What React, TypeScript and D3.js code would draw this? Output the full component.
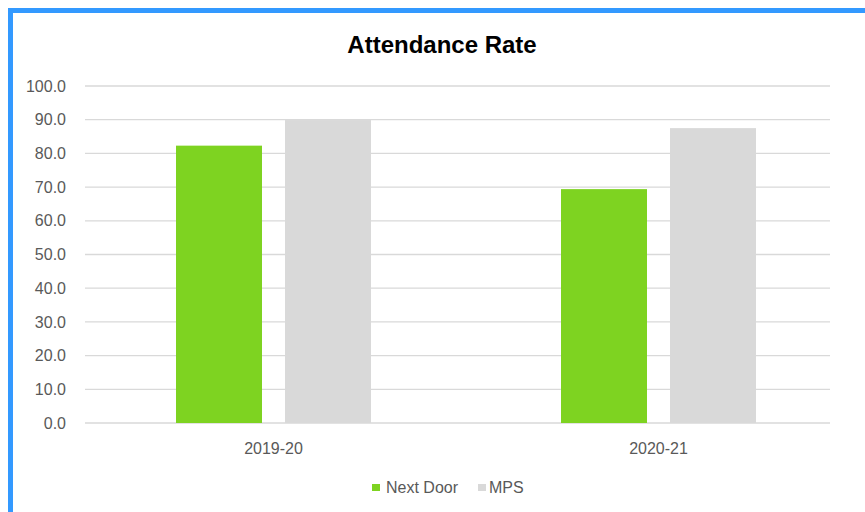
import React from "react";
import * as d3 from "d3";

const categories = ["2019-20", "2020-21"];
const seriesNames = ["Next Door", "MPS"];
const nextDoor = [82.3, 69.4];
const mps = [89.9, 87.5];
const yTicks = [0, 10, 20, 30, 40, 50, 60, 70, 80, 90, 100];
const title = "Attendance Rate";

const colors = ["#7ED321", "#D9D9D9"];

export default function App() {
  const W = 865, H = 512;
  const x0 = d3.scaleBand<string>().domain(categories).range([81, 851]).paddingInner(0).paddingOuter(0);
  const x1 = d3.scaleBand<string>().domain(seriesNames).range([95, 290]).paddingInner(0.211).paddingOuter(0);
  const y = d3.scaleLinear().domain([0, 100]).range([423, 86]);
  const series = [nextDoor, mps];
  const font = "'Liberation Sans', Arial, sans-serif";
  return (
    <svg width={W} height={H} style={{ position: "absolute", left: 0, top: 0, background: "#fff" }}>
      <rect x={0} y={0} width={W} height={H} fill="#fff" />
      <rect x={10.5} y={10.5} width={W + 50} height={H + 50} fill="none" stroke="#3399FF" strokeWidth={5} />
      <text x={442} y={53} textAnchor="middle" fontFamily={font} fontWeight="bold" fontSize={24} fill="#000">{title}</text>
      {yTicks.map((t) => (
        <g key={t}>
          <line x1={85} x2={830} y1={y(t)} y2={y(t)} stroke="#D9D9D9" strokeWidth={1.3} />
          <text x={66} y={y(t)} dy="0.35em" textAnchor="end" fontFamily={font} fontSize={16} fill="#595959">{t.toFixed(1)}</text>
        </g>
      ))}
      {categories.map((c, i) => (
        <g key={c} transform={`translate(${x0(c)},0)`}>
          {seriesNames.map((s, j) => (
            <rect key={s} x={x1(s)} y={y(series[j][i])} width={x1.bandwidth()} height={y(0) - y(series[j][i])} fill={colors[j]} />
          ))}
          <text x={192.5} y={448} dy="0.35em" textAnchor="middle" fontFamily={font} fontSize={16} fill="#595959">{c}</text>
        </g>
      ))}
      <g>
        <rect x={372} y={484} width={8} height={7} fill={colors[0]} />
        <text x={386} y={487} dy="0.35em" fontFamily={font} fontSize={16} fill="#595959">{seriesNames[0]}</text>
        <rect x={478} y={484} width={8} height={7} fill={colors[1]} />
        <text x={489} y={487} dy="0.35em" fontFamily={font} fontSize={16} fill="#595959">{seriesNames[1]}</text>
      </g>
    </svg>
  );
}
